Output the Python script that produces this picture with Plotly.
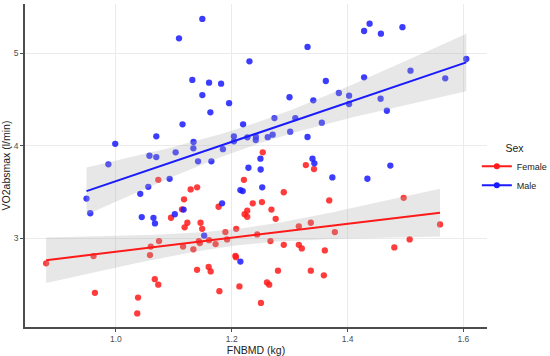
import numpy as np
import plotly.graph_objects as go

male_x = [1.1492, 1.1089, 1.2305, 1.1319, 1.1608, 1.1816, 1.1492, 1.1954, 1.1631, 1.1150,
          1.2196, 1.2737, 1.0697, 1.1340, 1.2037, 1.2270, 1.2417, 1.2414, 1.2621, 1.2706,
          0.9988, 1.2037, 1.0579, 1.0697, 1.1031, 1.1337, 1.1847, 0.9870, 1.1418, 1.1648,
          1.2288, 1.2495, 1.2499, 1.0927, 1.3308, 1.4285, 1.4380, 1.4575, 1.4947, 1.6049,
          1.5086, 1.5686, 1.3624, 1.4285, 1.2997, 1.3408, 1.3849, 1.4026, 1.4026, 1.4570,
          1.4678, 1.3097, 1.3009, 1.3555, 1.3308, 1.3394, 1.3426, 1.4738, 1.3737, 1.4342,
          0.9492, 0.9557, 1.0420, 1.0559, 1.0446, 1.0648, 1.0674, 1.1017, 1.1169, 1.1523,
          1.1833, 1.2149, 1.2189, 1.2149, 1.2526]
male_y = [5.371, 5.162, 4.913, 4.711, 4.682, 4.671, 4.548, 4.460, 4.361, 4.231,
          4.231, 4.299, 4.101, 4.040, 4.101, 4.090, 4.094, 4.061, 4.092, 4.119,
          4.020, 4.047, 3.891, 3.877, 3.928, 3.971, 3.962, 3.798, 3.831, 3.831,
          3.761, 3.859, 3.742, 3.641, 5.068, 5.241, 5.320, 5.212, 5.282, 4.938,
          4.812, 4.729, 4.700, 4.740, 4.524, 4.491, 4.570, 4.541, 4.451, 4.508,
          4.378, 4.299, 4.151, 4.249, 4.094, 3.859, 3.809, 3.785, 3.657, 3.642,
          3.428, 3.269, 3.479, 3.555, 3.227, 3.219, 3.159, 3.258, 3.309, 3.027,
          3.376, 3.520, 3.509, 2.746, 3.549]

female_x = [0.8795, 0.9613, 0.9637, 1.0382, 1.0368, 1.0602, 1.0588, 1.0744, 1.0671, 1.0731,
            1.0731, 1.1290, 1.1402, 1.1176, 1.1141, 1.0951, 1.1233, 1.1186, 1.1461, 1.1489,
            1.1432, 1.1449, 1.1159, 1.1337, 1.1608, 1.1721, 1.1890, 1.1919, 1.2077, 1.2063,
            1.2072, 1.1401, 1.1601, 1.1636, 1.1786, 1.2132, 1.1772, 1.2210, 1.2267, 1.2222,
            1.2267, 1.2362, 1.2438, 1.2521, 1.2685, 1.2758, 1.2668, 1.2608, 1.2646, 1.2504,
            1.2798, 1.2535, 1.3279, 1.3420, 1.2898, 1.3683, 1.3158, 1.3365, 1.3780, 1.2898,
            1.3158, 1.3209, 1.3607, 1.3365, 1.3590, 1.4968, 1.5596, 1.5072, 1.4807]
female_y = [2.727, 2.805, 2.408, 2.356, 2.185, 2.908, 2.816, 2.968, 2.556, 2.496,
            3.630, 3.527, 3.549, 3.419, 3.311, 3.220, 3.166, 3.117, 3.166, 3.100,
            2.968, 2.946, 2.908, 2.878, 2.978, 2.935, 3.065, 2.986, 3.100, 2.808,
            2.794, 2.657, 2.688, 2.639, 2.426, 2.477, 3.339, 3.630, 3.296, 3.258,
            3.230, 3.376, 3.040, 3.390, 3.309, 3.209, 2.968, 2.520, 2.496, 2.298,
            2.648, 3.928, 3.790, 3.747, 3.496, 3.408, 3.127, 3.166, 3.065, 2.927,
            2.927, 2.888, 2.867, 2.648, 2.597, 3.436, 3.148, 2.986, 2.899]

x_ticks = [1.0, 1.2, 1.4, 1.6]
y_ticks = [3, 4, 5]

RED = "#FF1A1A"
BLUE = "#1A1AFF"


def lm_band(x, y, t=1.995, n_grid=80):
    x = np.asarray(x, float)
    y = np.asarray(y, float)
    n = len(x)
    b, a = np.polyfit(x, y, 1)
    resid = y - (a + b * x)
    s = np.sqrt(np.sum(resid ** 2) / (n - 2))
    xm = x.mean()
    sxx = np.sum((x - xm) ** 2)
    gx = np.linspace(x.min(), x.max(), n_grid)
    gy = a + b * gx
    se = s * np.sqrt(1.0 / n + (gx - xm) ** 2 / sxx)
    return gx, gy, gy - t * se, gy + t * se


fig = go.Figure()

# points
for xs, ys, col in [(female_x, female_y, RED), (male_x, male_y, BLUE)]:
    fig.add_trace(go.Scatter(x=xs, y=ys, mode="markers",
                             marker=dict(color=col, size=6.3, opacity=0.85,
                                         line=dict(width=0)),
                             showlegend=False, hoverinfo="skip"))

# bands and lines
for xs, ys, col, name in [(female_x, female_y, RED, "Female"), (male_x, male_y, BLUE, "Male")]:
    gx, gy, lo, hi = lm_band(xs, ys)
    fig.add_trace(go.Scatter(x=np.concatenate([gx, gx[::-1]]),
                             y=np.concatenate([hi, lo[::-1]]),
                             fill="toself", fillcolor="rgba(170,170,170,0.28)",
                             line=dict(width=0), mode="lines",
                             showlegend=False, hoverinfo="skip"))
    fig.add_trace(go.Scatter(x=gx, y=gy, mode="lines",
                             line=dict(color=col, width=2),
                             showlegend=False, hoverinfo="skip"))

# legend entries
for col, name in [(RED, "Female"), (BLUE, "Male")]:
    fig.add_trace(go.Scatter(x=[None], y=[None], mode="lines+markers", name=name,
                             line=dict(color=col, width=2),
                             marker=dict(color=col, size=6)))

fig.update_layout(
    width=550, height=356,
    margin=dict(l=25, r=63, t=4, b=29, autoexpand=False),
    paper_bgcolor="white", plot_bgcolor="white",
    font=dict(family="Liberation Sans, Arial, sans-serif", color="#333333"),
    legend=dict(title=dict(text="Sex", font=dict(size=10.5, color="#222222"), side="top center"),
                x=0.978, xanchor="left", y=0.585, yanchor="top",
                font=dict(size=9, color="#222222"),
                itemwidth=30, tracegroupgap=0, bgcolor="rgba(0,0,0,0)"),
    xaxis=dict(range=[0.843, 1.6407], tickvals=x_ticks, automargin=False,
               ticktext=[f"{v:.1f}" for v in x_ticks],
               showgrid=True, gridcolor="#EBEBEB", gridwidth=1, zeroline=False,
               showline=True, linecolor="#4D4D4D", linewidth=1.5,
               ticks="outside", ticklen=3, tickcolor="#4D4D4D", tickwidth=1,
               tickfont=dict(size=8.5, color="#4D4D4D"),
               title=dict(text="FNBMD (kg)", font=dict(size=10.5, color="#222222"), standoff=2)),
    yaxis=dict(range=[2.038, 5.533], tickvals=y_ticks, automargin=False,
               ticktext=[str(v) for v in y_ticks],
               showgrid=True, gridcolor="#EBEBEB", gridwidth=1, zeroline=False,
               showline=True, linecolor="#4D4D4D", linewidth=1.5,
               ticks="outside", ticklen=3, tickcolor="#4D4D4D", tickwidth=1,
               tickfont=dict(size=8.5, color="#4D4D4D"),
               title=dict(text="VO2absmax (l/min)", font=dict(size=10.5, color="#222222"), standoff=2)),
)

fig.write_html("out.html", config={"displayModeBar": False},
               post_script="document.body.style.margin='0';")
